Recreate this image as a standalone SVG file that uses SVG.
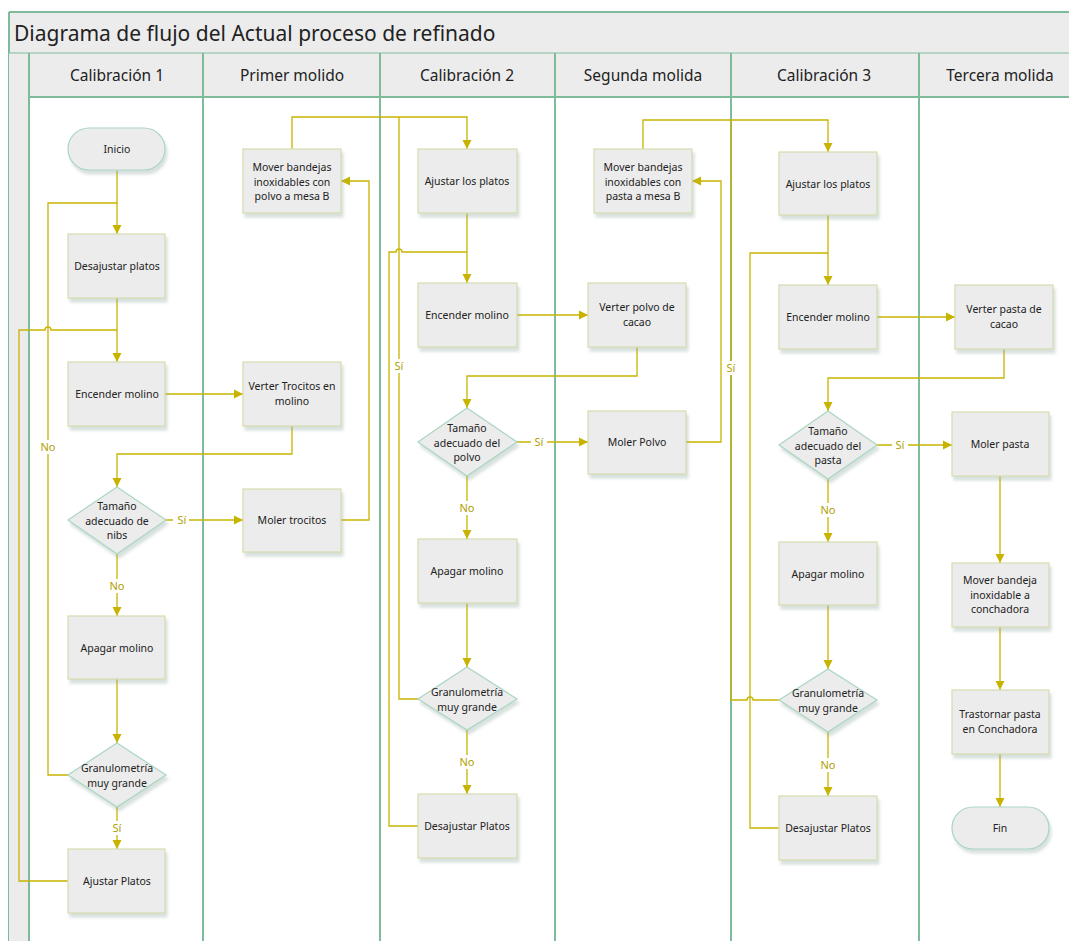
<svg xmlns="http://www.w3.org/2000/svg" width="1069" height="941" viewBox="0 0 1069 941">
<style>
.lane{stroke:#7dbb9b;stroke-width:2;fill:none}
.hdr{fill:#ececec}
.htxt{font-family:"Noto Sans",sans-serif;font-size:15.5px;fill:#222;text-anchor:middle}
.box{fill:#ececec;stroke:#d5ddb0;stroke-width:1.2;filter:url(#sh)}
.dia{fill:#ececec;stroke:#a9d6c1;stroke-width:1.2;filter:url(#sh)}
.pill{fill:#ececec;stroke:#a9d6c1;stroke-width:1.2;filter:url(#sh)}
.t{font-family:"Noto Sans",sans-serif;font-size:10.5px;fill:#222;text-anchor:middle}
.c{stroke:#c8b400;stroke-width:1.3;fill:none}
.a{marker-end:url(#arr)}
.lb{font-family:"Noto Sans",sans-serif;font-size:11px;fill:#b0a000;text-anchor:middle}
</style>
<defs>
<marker id="arr" markerWidth="10" markerHeight="10" refX="9" refY="5" orient="auto" markerUnits="userSpaceOnUse">
<path d="M0,0.5 L9,5 L0,9.5 z" fill="#c8b400"/>
</marker>
<filter id="sh" x="-10%" y="-10%" width="130%" height="140%">
<feDropShadow dx="2" dy="4" stdDeviation="1.5" flood-color="#8fa8a0" flood-opacity="0.35"/>
</filter>
</defs>
<rect width="1069" height="941" fill="#ffffff"/>
<!-- pool frame -->
<g id="pool">
<rect x="9" y="12" width="1070" height="41" fill="#ececec"/>
<line x1="9" y1="12" x2="1069" y2="12" class="lane" stroke-width="1.5"/>
<line x1="9" y1="12" x2="9" y2="941" class="lane" stroke-width="1.5"/>
<text x="14" y="41" font-family="Noto Sans, sans-serif" font-size="21" fill="#222">Diagrama de flujo del Actual proceso de refinado</text>
<rect x="9" y="53" width="20" height="888" fill="#ececec"/>
<rect x="29" y="53" width="1050" height="44" class="hdr"/>
<line x1="9" y1="53" x2="1069" y2="53" stroke="#7dbb9b" stroke-width="1"/>
<line x1="29" y1="97" x2="1069" y2="97" class="lane"/>
<line x1="29" y1="53" x2="29" y2="941" class="lane"/>
<line x1="203" y1="53" x2="203" y2="941" class="lane"/>
<line x1="380" y1="53" x2="380" y2="941" class="lane"/>
<line x1="555" y1="53" x2="555" y2="941" class="lane"/>
<line x1="731" y1="53" x2="731" y2="941" class="lane"/>
<line x1="919" y1="53" x2="919" y2="941" class="lane"/>
<text x="117" y="81" class="htxt">Calibración 1</text>
<text x="292" y="81" class="htxt">Primer molido</text>
<text x="467" y="81" class="htxt">Calibración 2</text>
<text x="643" y="81" class="htxt">Segunda molida</text>
<text x="824" y="81" class="htxt">Calibración 3</text>
<text x="1000" y="81" class="htxt">Tercera molida</text>
</g>
<!-- connectors -->
<g id="connectors">
<path class="c a" d="M117,171 V234"/>
<path class="c" d="M68,775 H48 V203 H117"/>
<path class="c a" d="M117,298 V362"/>
<path class="c" d="M68,881 H19 V330 H45 a3,3 0 0 1 6,0 H117"/>
<path class="c a" d="M165,394 H243"/>
<path class="c a" d="M292,426 V454 H117 V487"/>
<path class="c a" d="M166,520 H243"/>
<path class="c a" d="M341,520 H369 V181 H341"/>
<path class="c a" d="M117,554 V616"/>
<path class="c a" d="M117,679 V743"/>
<path class="c a" d="M117,807 V849"/>
<path class="c a" d="M292,149 V117 H467 V149"/>
<path class="c" d="M418,699 H399 V117"/>
<path class="c a" d="M467,213 V283"/>
<path class="c" d="M418,826 H389 V252 H396 a3,3 0 0 1 6,0 H467"/>
<path class="c a" d="M517,315 H588"/>
<path class="c a" d="M637,347 V376 H467 V408"/>
<path class="c a" d="M517,442 H588"/>
<path class="c a" d="M686,442 H721 V181 H692"/>
<path class="c a" d="M467,476 V539"/>
<path class="c a" d="M467,603 V667"/>
<path class="c a" d="M467,730 V794"/>
<path class="c a" d="M643,149 V120 H828 V152"/>
<path class="c" d="M779,700 H753 a3,3 0 0 0 -6,0 H731 V120"/>
<path class="c a" d="M828,215 V285"/>
<path class="c" d="M779,828 H750 V253 H828"/>
<path class="c a" d="M877,317 H955"/>
<path class="c a" d="M1004,349 V378 H828 V411"/>
<path class="c a" d="M877,445 H952"/>
<path class="c a" d="M828,479 V542"/>
<path class="c a" d="M828,605 V669"/>
<path class="c a" d="M828,732 V796"/>
<path class="c a" d="M1000,476 V563"/>
<path class="c a" d="M1000,627 V690"/>
<path class="c a" d="M1000,754 V807"/>
<!-- labels -->
<rect x="40" y="440" width="16" height="14" fill="#fff"/><text x="48" y="451" class="lb">No</text>
<rect x="173" y="513" width="16" height="14" fill="#fff"/><text x="182" y="524" class="lb">Sí</text>
<rect x="109" y="579" width="16" height="14" fill="#fff"/><text x="117" y="590" class="lb">No</text>
<rect x="109" y="821" width="16" height="14" fill="#fff"/><text x="117" y="832" class="lb">Sí</text>
<rect x="392" y="359" width="14" height="14" fill="#fff"/><text x="399" y="370" class="lb">Sí</text>
<rect x="531" y="435" width="16" height="14" fill="#fff"/><text x="539" y="446" class="lb">Sí</text>
<rect x="459" y="501" width="16" height="14" fill="#fff"/><text x="467" y="512" class="lb">No</text>
<rect x="459" y="755" width="16" height="14" fill="#fff"/><text x="467" y="766" class="lb">No</text>
<rect x="724" y="361" width="14" height="14" fill="#fff"/><text x="731" y="372" class="lb">Sí</text>
<rect x="892" y="438" width="16" height="14" fill="#fff"/><text x="900" y="449" class="lb">Sí</text>
<rect x="820" y="503" width="16" height="14" fill="#fff"/><text x="828" y="514" class="lb">No</text>
<rect x="820" y="758" width="16" height="14" fill="#fff"/><text x="828" y="769" class="lb">No</text>
</g>
<!-- lane 1 -->
<g id="inicio"><rect class="pill" x="68" y="128" width="97" height="42" rx="21"/><text class="t" x="117" y="153">Inicio</text></g>
<g id="desajustar1"><rect class="box" x="68" y="234" width="97" height="64"/><text class="t" x="117" y="270">Desajustar platos</text></g>
<g id="encender1"><rect class="box" x="68" y="362" width="97" height="64"/><text class="t" x="117" y="398">Encender molino</text></g>
<g id="tamano1"><path class="dia" d="M117,487 L166,520 L117,554 L68,520 Z"/><text class="t" x="117" y="510"><tspan x="117">Tamaño</tspan><tspan x="117" dy="14.5">adecuado de</tspan><tspan x="117" dy="14.5">nibs</tspan></text></g>
<g id="apagar1"><rect class="box" x="68" y="616" width="97" height="63"/><text class="t" x="117" y="652">Apagar molino</text></g>
<g id="granu1"><path class="dia" d="M117,743 L166,775 L117,807 L68,775 Z"/><text class="t" x="117" y="772"><tspan x="117">Granulometría</tspan><tspan x="117" dy="14.5">muy grande</tspan></text></g>
<g id="ajustar1"><rect class="box" x="68" y="849" width="97" height="64"/><text class="t" x="117" y="885">Ajustar Platos</text></g>
<!-- lane 2 -->
<g id="mover1"><rect class="box" x="243" y="149" width="98" height="64"/><text class="t" x="292" y="171"><tspan x="292">Mover bandejas</tspan><tspan x="292" dy="14.5">inoxidables con</tspan><tspan x="292" dy="14.5">polvo a mesa B</tspan></text></g>
<g id="verter1"><rect class="box" x="243" y="362" width="98" height="64"/><text class="t" x="292" y="390"><tspan x="292">Verter Trocitos en</tspan><tspan x="292" dy="14.5">molino</tspan></text></g>
<g id="moler1"><rect class="box" x="243" y="489" width="98" height="63"/><text class="t" x="292" y="524">Moler trocitos</text></g>
<!-- lane 3 -->
<g id="ajustar2"><rect class="box" x="418" y="149" width="99" height="64"/><text class="t" x="467" y="185">Ajustar los platos</text></g>
<g id="encender2"><rect class="box" x="418" y="283" width="99" height="64"/><text class="t" x="467" y="319">Encender molino</text></g>
<g id="tamano2"><path class="dia" d="M467,408 L517,442 L467,476 L418,442 Z"/><text class="t" x="467" y="432"><tspan x="467">Tamaño</tspan><tspan x="467" dy="14.5">adecuado del</tspan><tspan x="467" dy="14.5">polvo</tspan></text></g>
<g id="apagar2"><rect class="box" x="418" y="539" width="99" height="64"/><text class="t" x="467" y="575">Apagar molino</text></g>
<g id="granu2"><path class="dia" d="M467,667 L517,699 L467,730 L418,699 Z"/><text class="t" x="467" y="696"><tspan x="467">Granulometría</tspan><tspan x="467" dy="14.5">muy grande</tspan></text></g>
<g id="desajustar2"><rect class="box" x="418" y="794" width="99" height="64"/><text class="t" x="467" y="830">Desajustar Platos</text></g>
<!-- lane 4 -->
<g id="mover2"><rect class="box" x="594" y="149" width="98" height="64"/><text class="t" x="643" y="171"><tspan x="643">Mover bandejas</tspan><tspan x="643" dy="14.5">inoxidables con</tspan><tspan x="643" dy="14.5">pasta a mesa B</tspan></text></g>
<g id="verter2"><rect class="box" x="588" y="283" width="98" height="64"/><text class="t" x="637" y="311"><tspan x="637">Verter polvo de</tspan><tspan x="637" dy="14.5">cacao</tspan></text></g>
<g id="moler2"><rect class="box" x="588" y="411" width="98" height="63"/><text class="t" x="637" y="446">Moler Polvo</text></g>
<!-- lane 5 -->
<g id="ajustar3"><rect class="box" x="779" y="152" width="98" height="63"/><text class="t" x="828" y="188">Ajustar los platos</text></g>
<g id="encender3"><rect class="box" x="779" y="285" width="98" height="64"/><text class="t" x="828" y="321">Encender molino</text></g>
<g id="tamano3"><path class="dia" d="M828,411 L877,445 L828,479 L779,445 Z"/><text class="t" x="828" y="435"><tspan x="828">Tamaño</tspan><tspan x="828" dy="14.5">adecuado del</tspan><tspan x="828" dy="14.5">pasta</tspan></text></g>
<g id="apagar3"><rect class="box" x="779" y="542" width="98" height="63"/><text class="t" x="828" y="578">Apagar molino</text></g>
<g id="granu3"><path class="dia" d="M828,669 L877,700 L828,732 L779,700 Z"/><text class="t" x="828" y="697"><tspan x="828">Granulometría</tspan><tspan x="828" dy="14.5">muy grande</tspan></text></g>
<g id="desajustar3"><rect class="box" x="779" y="796" width="98" height="64"/><text class="t" x="828" y="832">Desajustar Platos</text></g>
<!-- lane 6 -->
<g id="verter3"><rect class="box" x="955" y="285" width="98" height="64"/><text class="t" x="1004" y="313"><tspan x="1004">Verter pasta de</tspan><tspan x="1004" dy="14.5">cacao</tspan></text></g>
<g id="moler3"><rect class="box" x="952" y="412" width="97" height="64"/><text class="t" x="1000" y="448">Moler pasta</text></g>
<g id="mover3"><rect class="box" x="952" y="563" width="97" height="64"/><text class="t" x="1000" y="584"><tspan x="1000">Mover bandeja</tspan><tspan x="1000" dy="14.5">inoxidable a</tspan><tspan x="1000" dy="14.5">conchadora</tspan></text></g>
<g id="trastornar"><rect class="box" x="952" y="690" width="97" height="64"/><text class="t" x="1000" y="718"><tspan x="1000">Trastornar pasta</tspan><tspan x="1000" dy="14.5">en Conchadora</tspan></text></g>
<g id="fin"><rect class="pill" x="952" y="807" width="97" height="42" rx="21"/><text class="t" x="1000" y="832">Fin</text></g>
</svg>
